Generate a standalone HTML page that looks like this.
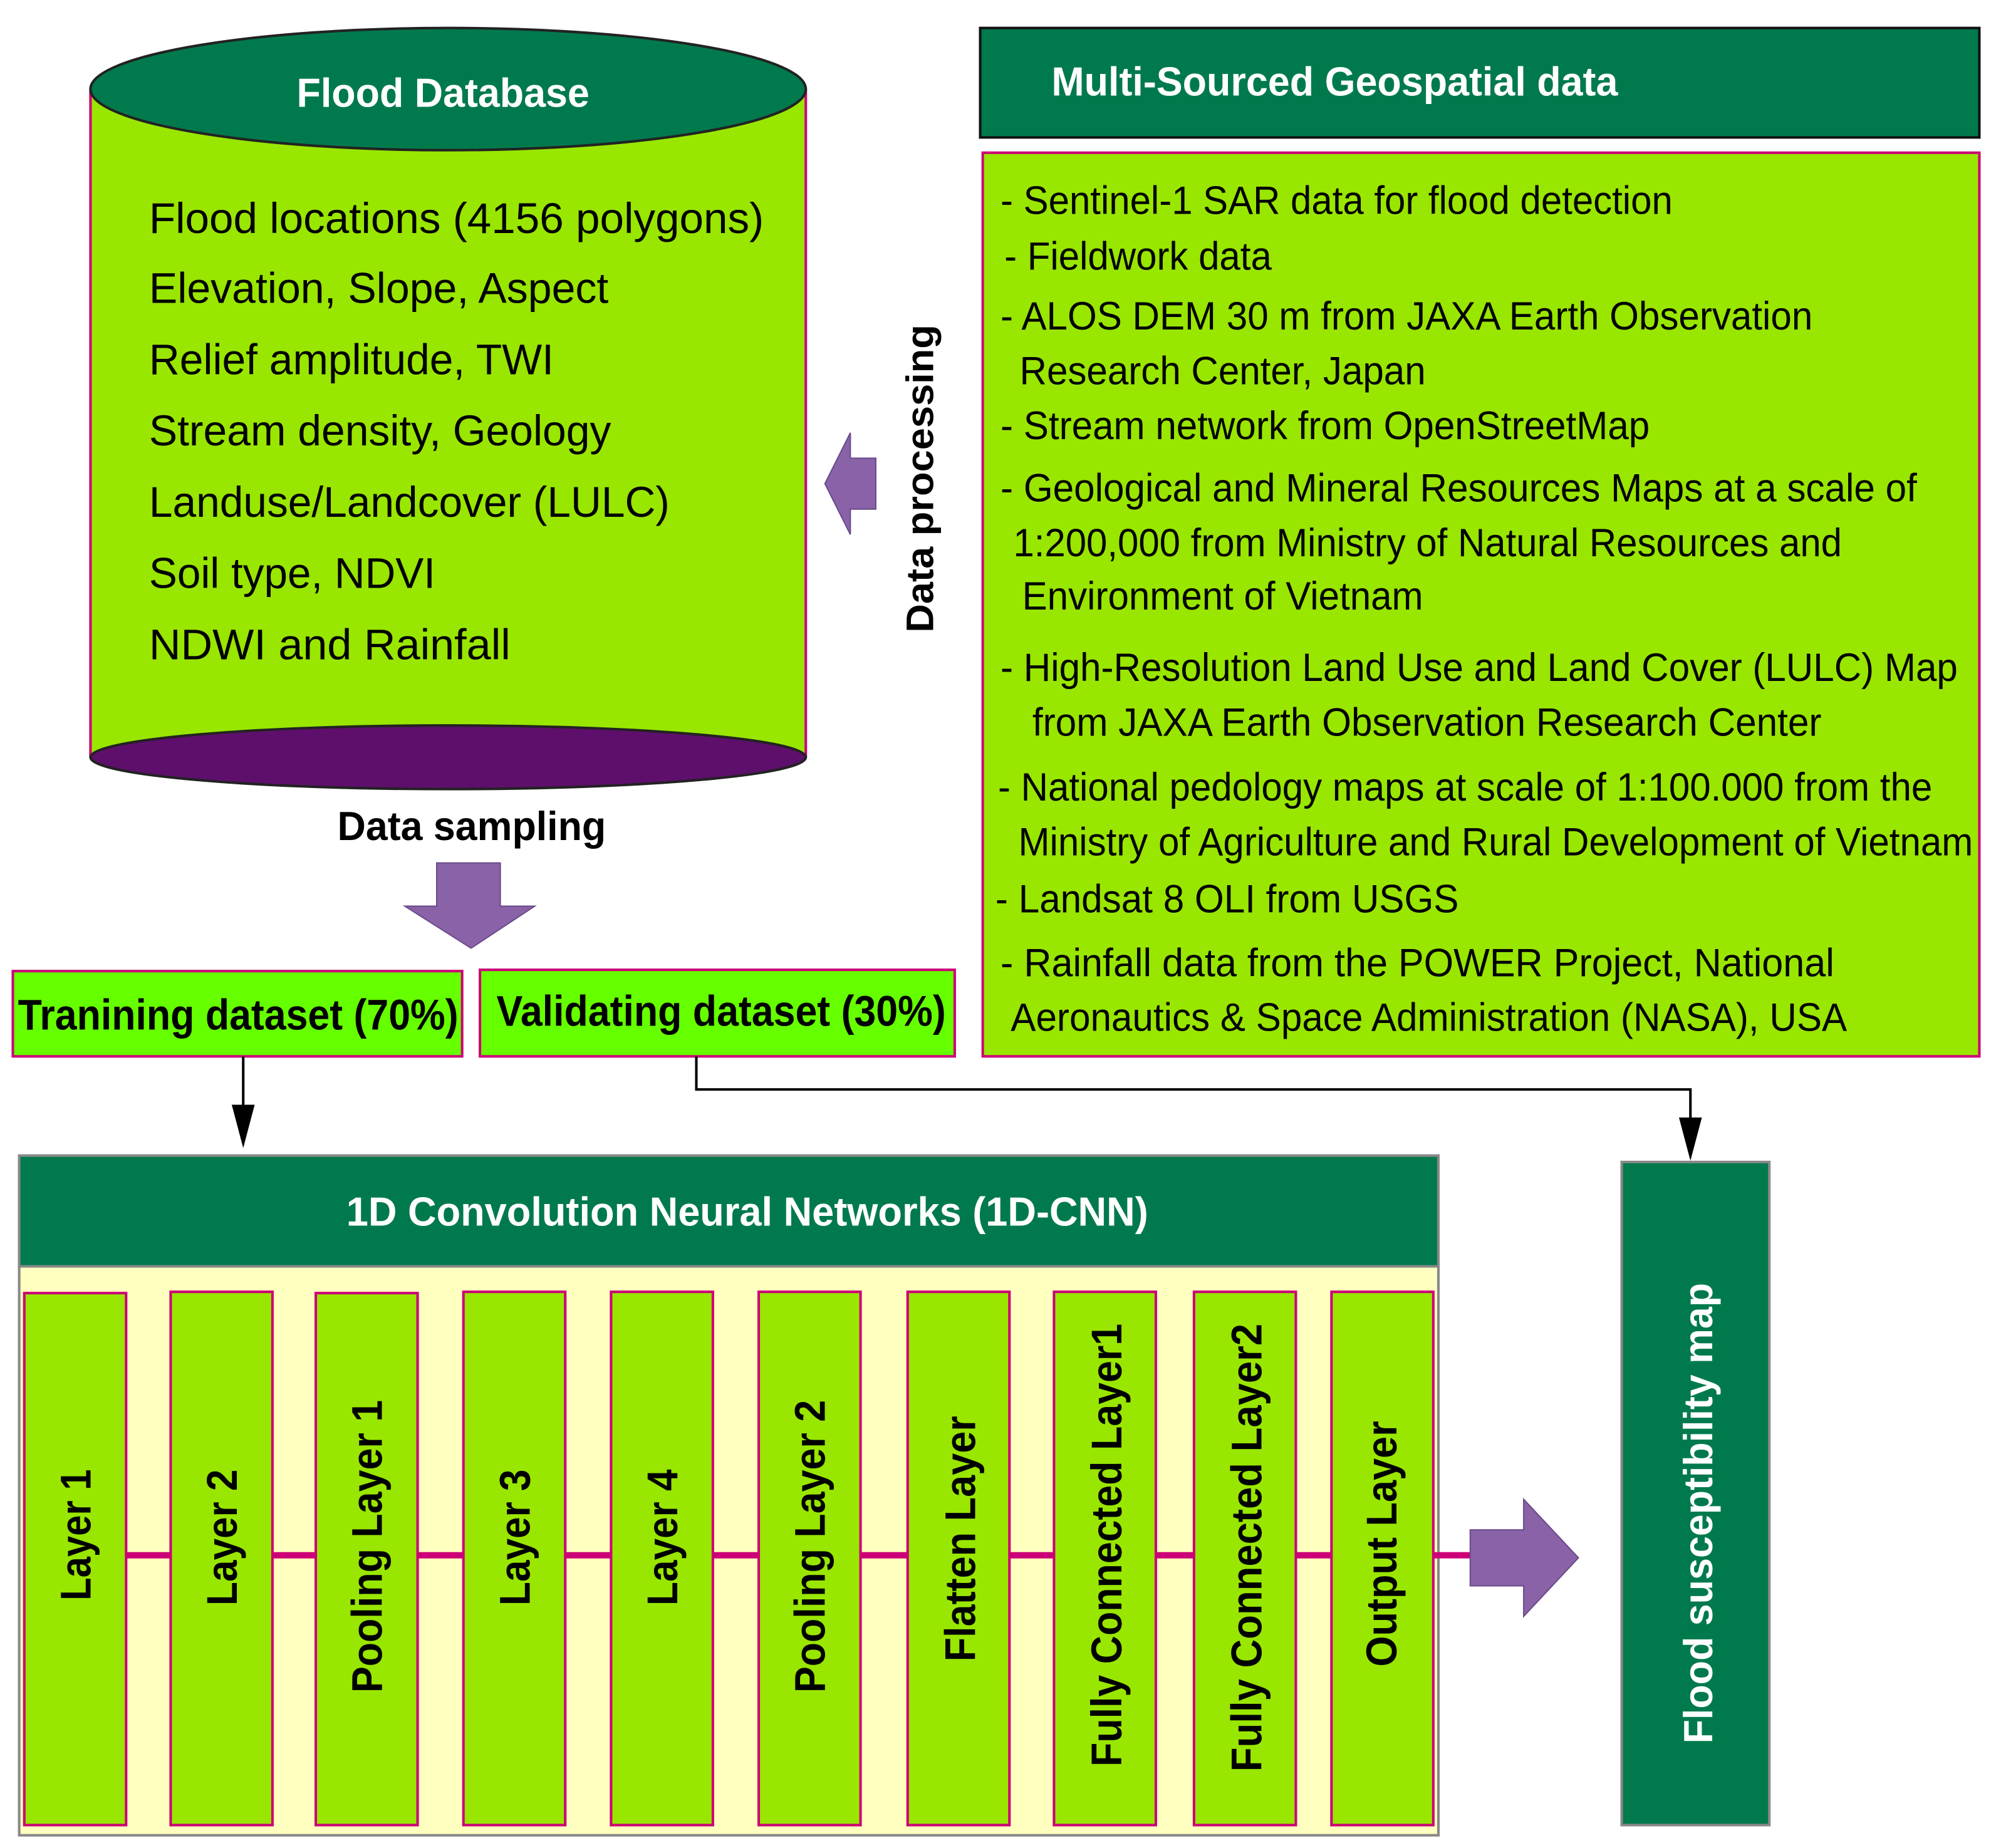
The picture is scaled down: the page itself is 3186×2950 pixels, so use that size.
<!DOCTYPE html>
<html><head><meta charset="utf-8"><style>
html,body{margin:0;padding:0;background:#fff;}
svg{display:block;}
text{font-family:"Liberation Sans",sans-serif;}
</style></head><body>
<svg width="3186" height="2950" viewBox="0 0 1568 1452" xmlns="http://www.w3.org/2000/svg">
<!-- Cylinder -->
<rect x="71" y="70" width="562" height="525" fill="#99e600"/>
<line x1="71" y1="70" x2="71" y2="595" stroke="#cc0077" stroke-width="2"/>
<line x1="633" y1="70" x2="633" y2="595" stroke="#cc0077" stroke-width="2"/>
<ellipse cx="352" cy="595" rx="281" ry="25" fill="#5e0f6b" stroke="#222" stroke-width="2"/>
<ellipse cx="352" cy="70" rx="281" ry="48" fill="#007a4d" stroke="#222" stroke-width="2"/>
<text x="348" y="84" fill="#fff" font-weight="bold" font-size="32" text-anchor="middle" textLength="230" lengthAdjust="spacingAndGlyphs">Flood Database</text>
<g font-size="34" fill="#000">
<text x="117" y="183" textLength="483" lengthAdjust="spacingAndGlyphs">Flood locations  (4156 polygons)</text>
<text x="117" y="238" textLength="361" lengthAdjust="spacingAndGlyphs">Elevation, Slope, Aspect</text>
<text x="117" y="294" textLength="318" lengthAdjust="spacingAndGlyphs">Relief amplitude, TWI</text>
<text x="117" y="350" textLength="363" lengthAdjust="spacingAndGlyphs">Stream density, Geology</text>
<text x="117" y="406" textLength="409" lengthAdjust="spacingAndGlyphs">Landuse/Landcover (LULC)</text>
<text x="117" y="462" textLength="225" lengthAdjust="spacingAndGlyphs">Soil type, NDVI</text>
<text x="117" y="518" textLength="284" lengthAdjust="spacingAndGlyphs">NDWI and  Rainfall</text>
</g>
<!-- Data processing -->
<text transform="translate(733,376) rotate(-90)" font-weight="bold" font-size="30" text-anchor="middle" textLength="242" lengthAdjust="spacingAndGlyphs">Data processing</text>
<polygon points="648,380 668,340 668,360 688,360 688,400 668,400 668,420" fill="#8a62a8" stroke="#6a4a8a" stroke-width="1"/>
<!-- Multi-sourced -->
<rect x="770" y="22" width="785" height="86" fill="#007a4d" stroke="#111" stroke-width="2"/>
<text x="826" y="75" fill="#fff" font-weight="bold" font-size="32" textLength="445" lengthAdjust="spacingAndGlyphs">Multi-Sourced Geospatial data</text>
<rect x="772" y="120" width="783" height="710" fill="#99e600" stroke="#cc0077" stroke-width="2"/>
<g font-size="31" fill="#000">
<text x="786" y="168" textLength="528" lengthAdjust="spacingAndGlyphs">- Sentinel-1 SAR data for flood detection</text>
<text x="789" y="212" textLength="210" lengthAdjust="spacingAndGlyphs">- Fieldwork data</text>
<text x="786" y="259" textLength="638" lengthAdjust="spacingAndGlyphs">- ALOS DEM 30 m from JAXA Earth Observation</text>
<text x="801" y="302" textLength="319" lengthAdjust="spacingAndGlyphs">Research Center, Japan</text>
<text x="786" y="345" textLength="510" lengthAdjust="spacingAndGlyphs">- Stream network from OpenStreetMap</text>
<text x="786" y="394" textLength="720" lengthAdjust="spacingAndGlyphs">- Geological and Mineral Resources Maps at a scale of</text>
<text x="796" y="437" textLength="651" lengthAdjust="spacingAndGlyphs">1:200,000 from Ministry of Natural Resources and</text>
<text x="803" y="479" textLength="315" lengthAdjust="spacingAndGlyphs">Environment of Vietnam</text>
<text x="786" y="535" textLength="752" lengthAdjust="spacingAndGlyphs">- High-Resolution Land Use and Land Cover (LULC) Map</text>
<text x="811" y="578" textLength="620" lengthAdjust="spacingAndGlyphs">from JAXA Earth Observation Research Center</text>
<text x="784" y="629" textLength="734" lengthAdjust="spacingAndGlyphs">- National pedology maps at scale of 1:100.000 from the</text>
<text x="800" y="672" textLength="750" lengthAdjust="spacingAndGlyphs">Ministry of Agriculture and Rural Development of Vietnam</text>
<text x="782" y="717" textLength="364" lengthAdjust="spacingAndGlyphs">- Landsat 8 OLI from USGS</text>
<text x="786" y="767" textLength="655" lengthAdjust="spacingAndGlyphs">- Rainfall data from the POWER  Project, National</text>
<text x="794" y="810" textLength="657" lengthAdjust="spacingAndGlyphs">Aeronautics &amp; Space Administration (NASA), USA</text>
</g>
<!-- Data sampling -->
<text x="265" y="660" font-weight="bold" font-size="32" textLength="211" lengthAdjust="spacingAndGlyphs">Data sampling</text>
<polygon points="343,678 393,678 393,712 420,712 370,745 318,712 343,712" fill="#8a62a8" stroke="#6a4a8a" stroke-width="1"/>
<!-- datasets -->
<rect x="10" y="763" width="353" height="67" fill="#66ff00" stroke="#cc0077" stroke-width="2"/>
<text x="14" y="809" font-weight="bold" font-size="34" textLength="346" lengthAdjust="spacingAndGlyphs">Tranining dataset (70%)</text>
<rect x="377" y="762" width="373" height="68" fill="#66ff00" stroke="#cc0077" stroke-width="2"/>
<text x="390" y="806" font-weight="bold" font-size="34" textLength="353" lengthAdjust="spacingAndGlyphs">Validating dataset (30%)</text>
<line x1="191" y1="830" x2="191" y2="872" stroke="#000" stroke-width="2"/>
<polygon points="182,868 200,868 191,902" fill="#000"/>
<polyline points="547,830 547,856 1328,856 1328,882" fill="none" stroke="#000" stroke-width="2"/>
<polygon points="1319,878 1337,878 1328,912" fill="#000"/>
<!-- CNN -->
<rect x="15" y="908" width="1115" height="534" fill="#ffffc0" stroke="#888" stroke-width="2"/>
<rect x="15" y="908" width="1115" height="87" fill="#007a4d" stroke="#888" stroke-width="2"/>
<text x="587" y="963" fill="#fff" font-weight="bold" font-size="32" text-anchor="middle" textLength="630" lengthAdjust="spacingAndGlyphs">1D Convolution Neural Networks (1D-CNN)</text>
<line x1="99" y1="1222" x2="1155" y2="1222" stroke="#cc0077" stroke-width="5"/>
<g fill="#99e600" stroke="#cc0077" stroke-width="2">
<rect x="19" y="1016" width="80" height="418"/>
<rect x="134" y="1015" width="80" height="419"/>
<rect x="248" y="1016" width="80" height="418"/>
<rect x="364" y="1015" width="80" height="419"/>
<rect x="480" y="1015" width="80" height="419"/>
<rect x="596" y="1015" width="80" height="419"/>
<rect x="713" y="1015" width="80" height="419"/>
<rect x="828" y="1015" width="80" height="419"/>
<rect x="938" y="1015" width="80" height="419"/>
<rect x="1046" y="1015" width="80" height="419"/>
</g>
<g font-weight="bold" font-size="34" text-anchor="middle" fill="#000">
<text transform="translate(71,1206) rotate(-90)" textLength="103" lengthAdjust="spacingAndGlyphs">Layer 1</text>
<text transform="translate(186,1208) rotate(-90)" textLength="107" lengthAdjust="spacingAndGlyphs">Layer 2</text>
<text transform="translate(300,1215) rotate(-90)" textLength="230" lengthAdjust="spacingAndGlyphs">Pooling Layer 1</text>
<text transform="translate(416,1208) rotate(-90)" textLength="107" lengthAdjust="spacingAndGlyphs">Layer 3</text>
<text transform="translate(532,1208) rotate(-90)" textLength="107" lengthAdjust="spacingAndGlyphs">Layer 4</text>
<text transform="translate(648,1215) rotate(-90)" textLength="230" lengthAdjust="spacingAndGlyphs">Pooling Layer 2</text>
<text transform="translate(766,1209) rotate(-90)" textLength="193" lengthAdjust="spacingAndGlyphs">Flatten Layer</text>
<text transform="translate(881,1214) rotate(-90)" textLength="348" lengthAdjust="spacingAndGlyphs">Fully Connected Layer1</text>
<text transform="translate(991,1216) rotate(-90)" textLength="352" lengthAdjust="spacingAndGlyphs">Fully Connected Layer2</text>
<text transform="translate(1097,1213) rotate(-90)" textLength="193" lengthAdjust="spacingAndGlyphs">Output Layer</text>
</g>
<polygon points="1155,1202 1197,1202 1197,1178 1240,1224 1197,1270 1197,1246 1155,1246" fill="#8a62a8" stroke="#6a4a8a" stroke-width="1"/>
<!-- Flood susceptibility map -->
<rect x="1274" y="913" width="116" height="521" fill="#007a4d" stroke="#888" stroke-width="2"/>
<text transform="translate(1345,1189) rotate(-90)" fill="#fff" font-weight="bold" font-size="32" text-anchor="middle" textLength="362" lengthAdjust="spacingAndGlyphs">Flood susceptibility map</text>
</svg>
</body></html>
